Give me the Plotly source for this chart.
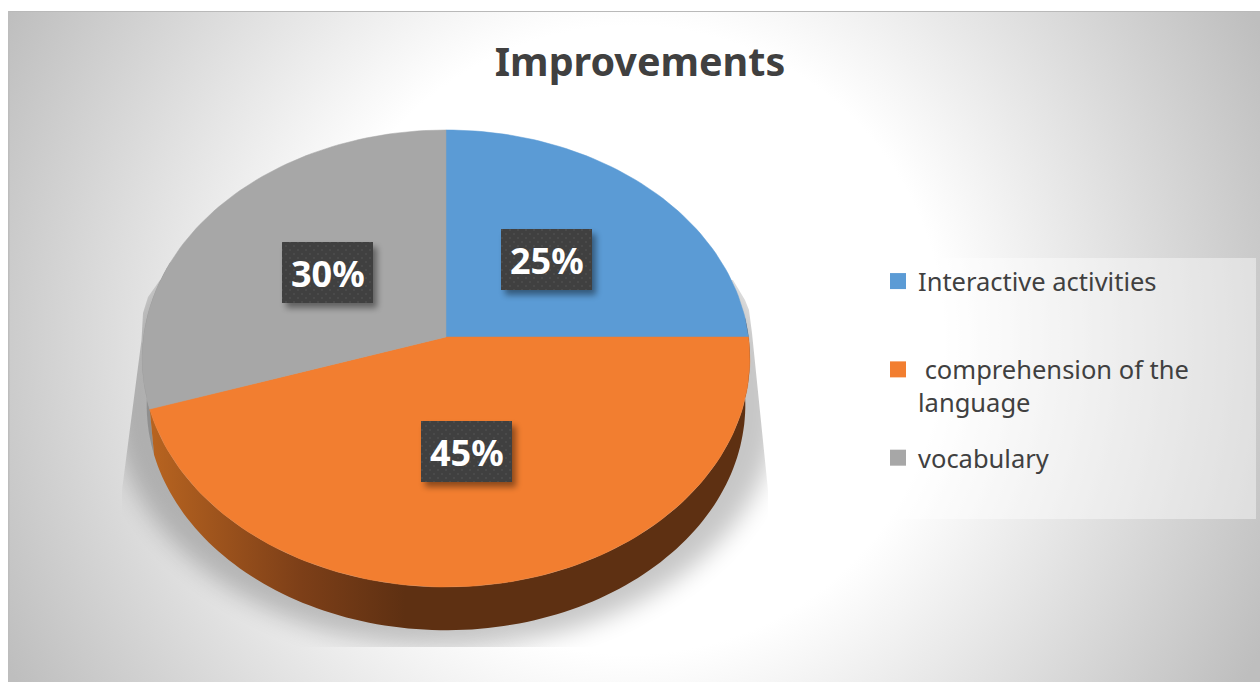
import math
import urllib.parse
import plotly.graph_objects as go

# ---- data ----
categories = ["Interactive activities", " comprehension of the", "vocabulary"]
legend_labels = ["Interactive activities<br>&nbsp;", "&nbsp;comprehension of the<br>language", "vocabulary<br>&nbsp;"]
values = [25, 45, 30]
value_labels = ["25%", "45%", "30%"]
colors = ["#5B9BD5", "#F27E30", "#A7A7A7"]
title_text = "Improvements"

# ---- geometry of the tilted disc, in page pixels ----
W, H = 1260, 682
CX, CY, RX, RY, K = 446, 337, 302.5, 226.5, 0.094
LABEL_BOXES = [(501, 229), (421, 421), (282, 242)]
BOX_W, BOX_H = 91, 61
FONT = "Noto Sans"


def rim(deg):
    """Clock angle (0 = top, clockwise) to a point on the tilted disc edge."""
    a = math.radians(deg)
    c, s = math.sin(a), -math.cos(a)
    d = 1 - K * s
    return CX + RX * c / d, CY + RY * s / d


def lower_rim(deg):
    x, y = rim(deg)
    return CX + (x - CX) * 0.985, CY + (y - CY) * 0.985 + 47


def wall_path(a0, a1):
    angles = [a0 + (a1 - a0) * i / 120 for i in range(121)]
    top = [rim(a) for a in angles]
    low = [lower_rim(a) for a in reversed(angles)]
    return "M" + " L".join(f"{x:.1f},{y:.1f}" for x, y in top + low) + " Z"


total = sum(values)
starts, cum = [], 0
for v in values:
    starts.append(cum / total * 360)
    cum += v
ends = starts[1:] + [360]

# ---- background, shadow, side wall and label plates drawn as SVG ----
box_svg = "".join(
    f'<rect x="{x+4}" y="{y+5}" width="{BOX_W}" height="{BOX_H}" fill="#000" opacity=".42" filter="url(#s)"/>'
    f'<rect x="{x}" y="{y}" width="{BOX_W}" height="{BOX_H}" fill="url(#dots)"/>'
    for x, y in LABEL_BOXES
)
defs_common = (
    f'<svg xmlns="http://www.w3.org/2000/svg" width="{W}" height="{H}" viewBox="0 0 {W} {H}">'
)
bg_svg = (
    defs_common
    + '<defs><radialGradient id="g" gradientUnits="userSpaceOnUse" cx="630" cy="340" r="703">'
    '<stop offset="0.447" stop-color="#fff"/><stop offset="1" stop-color="#bebebe"/></radialGradient>'
    '<linearGradient id="w" gradientUnits="userSpaceOnUse" x1="150" y1="0" x2="405" y2="0">'
    '<stop offset="0" stop-color="#b86420"/><stop offset="0.59" stop-color="#7d3f18"/>'
    '<stop offset="1" stop-color="#5e3012"/></linearGradient>'
    '<filter id="b" x="-20%" y="-20%" width="140%" height="140%"><feGaussianBlur stdDeviation="12"/></filter>'
    '<clipPath id="c"><polygon points="160,280 148,297 143,313 141.5,340 122,490 122,647 '
    '768,647 768,490 752,333 749,310 745,300 733,280"/></clipPath></defs>'
    f'<rect width="{W}" height="{H}" fill="#fff"/>'
    f'<rect x="8" y="11" width="{W-8}" height="{H-11}" fill="url(#g)"/>'
    f'<rect x="8" y="11" width="{W-8}" height="1" fill="#b9b9b9"/>'
    f'<rect x="8" y="11" width="1.5" height="{H-11}" fill="#bdbdbd"/>'
    '<g clip-path="url(#c)"><ellipse cx="446" cy="400" rx="333" ry="247" fill="#000" opacity=".22" filter="url(#b)"/></g>'
    '<rect x="880" y="258" width="376" height="261" fill="#fff" opacity=".42"/>'
    f'<path d="{wall_path(starts[2], 290)}" fill="#8f8f8f"/>'
    f'<path d="{wall_path(85, starts[2])}" fill="url(#w)"/>'
    '</svg>'
)
plate_svg = (
    defs_common
    + '<defs><filter id="s" x="-30%" y="-30%" width="160%" height="160%"><feGaussianBlur stdDeviation="3"/></filter>'
    '<pattern id="dots" width="8" height="8" patternUnits="userSpaceOnUse">'
    '<rect width="8" height="8" fill="#404040"/>'
    '<circle cx="2" cy="2" r=".8" fill="#575757"/><circle cx="6" cy="6" r=".8" fill="#575757"/></pattern></defs>'
    + box_svg + '</svg>'
)


def uri(svg):
    return "data:image/svg+xml;charset=utf-8," + urllib.parse.quote(svg)


def full_image(svg, layer):
    return dict(source=uri(svg), xref="paper", yref="paper", x=0, y=1, sizex=1, sizey=1,
                xanchor="left", yanchor="top", sizing="stretch", layer=layer)


fig = go.Figure()

# ---- top face ----
for name, v, col, a0, a1 in zip(categories, values, colors, starts, ends):
    n = max(2, int((a1 - a0) / 1.5))
    pts = [rim(a0 + (a1 - a0) * i / n) for i in range(n + 1)]
    xs = [CX] + [p[0] for p in pts] + [CX]
    ys = [CY] + [p[1] for p in pts] + [CY]
    fig.add_trace(go.Scatter(x=xs, y=ys, mode="lines", fill="toself", fillcolor=col,
                             line=dict(color=col, width=0.5), name=name.strip(),
                             text=f"{name.strip()}: {v}%", hoverinfo="text", showlegend=False))

# ---- legend ----
for label, col in zip(legend_labels, colors):
    fig.add_trace(go.Scatter(x=[None], y=[None], mode="markers", name=label, legendgroup=label,
                             marker=dict(symbol="square", size=16, color=col)))

# ---- value labels ----
annotations = []
for lab, (bx, by) in zip(value_labels, LABEL_BOXES):
    annotations.append(dict(x=bx + BOX_W / 2, y=by + BOX_H / 2 + 1, xref="x", yref="y", text=lab,
                            showarrow=False, font=dict(family=FONT, size=36, color="white", weight="bold")))

fig.update_layout(
    width=W, height=H, margin=dict(l=0, r=0, t=0, b=0),
    paper_bgcolor="white", plot_bgcolor="rgba(0,0,0,0)",
    xaxis=dict(range=[0, W], visible=False, fixedrange=True),
    yaxis=dict(range=[H, 0], visible=False, fixedrange=True),
    title=dict(text=title_text, x=640 / W, y=1 - 62 / H, xanchor="center", yanchor="middle",
               font=dict(family=FONT, size=39.5, color="#404040", weight="bold")),
    images=[full_image(bg_svg, "below"), full_image(plate_svg, "above")],
    annotations=annotations,
    legend=dict(x=878 / W, y=1 - 258 / H, xanchor="left", yanchor="top", bgcolor="rgba(0,0,0,0)",
                font=dict(family=FONT, size=25.5, color="#404040"), tracegroupgap=19,
                itemwidth=30, valign="top"),
)

fig.write_html("out.html", config={"displayModeBar": False},
               post_script="document.body.style.margin='0';document.body.style.overflow='hidden';")
